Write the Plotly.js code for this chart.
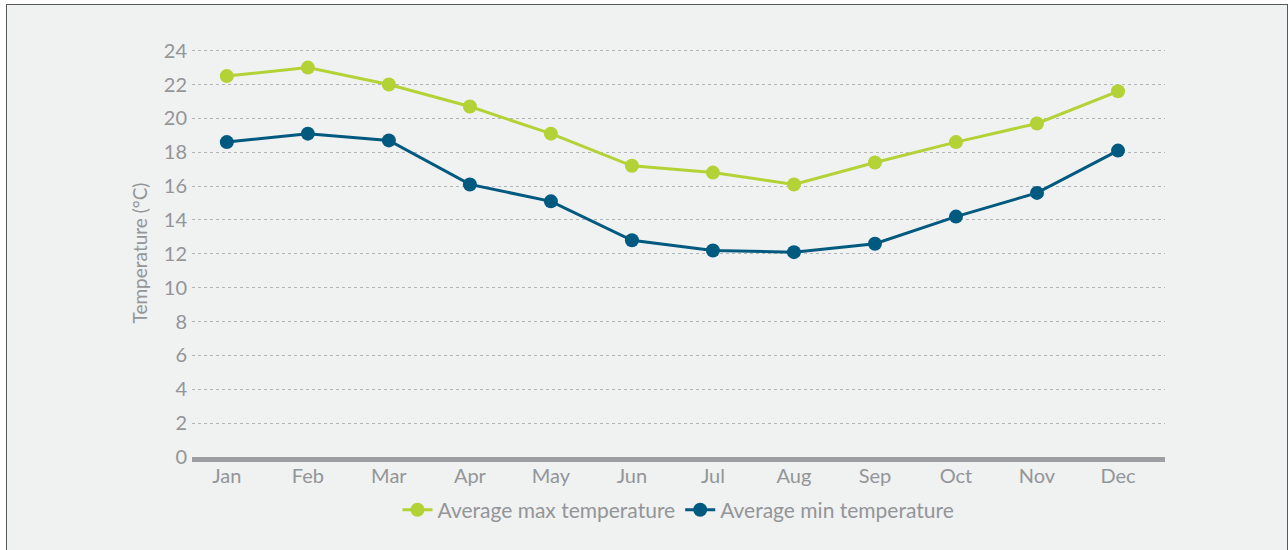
<!DOCTYPE html>
<html><head><meta charset="utf-8">
<script src="https://cdn.plot.ly/plotly-3.0.1.min.js"></script>
<style>
html,body{margin:0;padding:0;background:#fff;}
#bg{position:absolute;left:6px;top:4px;width:1280px;height:560px;background:#f0f1f1;border:1.5px solid #58595b;}
#chart{position:absolute;left:0;top:0;width:1288px;height:550px;}
</style></head>
<body>
<div id="bg"></div>
<div id="chart"></div>
<script>
const months = ["Jan","Feb","Mar","Apr","May","Jun","Jul","Aug","Sep","Oct","Nov","Dec"];
const maxTemp = [22.5, 23.0, 22.0, 20.7, 19.1, 17.2, 16.8, 16.1, 17.4, 18.6, 19.7, 21.6];
const minTemp = [18.6, 19.1, 18.7, 16.1, 15.1, 12.8, 12.2, 12.1, 12.6, 14.2, 15.6, 18.1];
const yTicks = [0,2,4,6,8,10,12,14,16,18,20,22,24];

const font = {family: "Lato, 'Open Sans', sans-serif", color: "#939598"};
const traces = [
  {x: months, y: maxTemp, name: "Average max temperature", type: "scatter", mode: "lines+markers",
   line: {color: "#b2d235", width: 3}, marker: {color: "#b2d235", size: 14}, cliponaxis: false},
  {x: months, y: minTemp, name: "Average min temperature", type: "scatter", mode: "lines+markers",
   line: {color: "#005a80", width: 3}, marker: {color: "#005a80", size: 14}, cliponaxis: false}
];
const layout = {
  width: 1288, height: 550,
  paper_bgcolor: "rgba(0,0,0,0)", plot_bgcolor: "rgba(0,0,0,0)",
  margin: {l: 192, r: 123, t: 49, b: 93},
  font: font,
  showlegend: true,
  legend: {orientation: "h", x: 0.5, xanchor: "center", y: -0.13, yanchor: "middle",
    font: {family: font.family, size: 21, color: "#939598"}, bgcolor: "rgba(0,0,0,0)", tracegroupgap: 0},
  xaxis: {type: "category", range: [-0.43, 11.58], showgrid: false, zeroline: false,
    showline: true, linecolor: "#9d9fa2", linewidth: 5, ticks: "", ticklabelstandoff: -3,
    tickfont: {family: font.family, size: 20, color: "#939598"}, fixedrange: true},
  yaxis: {range: [0, 24.1], tickvals: yTicks, ticktext: yTicks.map(String),
    showgrid: true, gridcolor: "#b3b5b8", griddash: "dot", gridwidth: 1,
    zeroline: false, showline: false, ticks: "", ticklen: 0, ticklabelstandoff: 4,
    tickfont: {family: font.family, size: 20, color: "#939598"},
    title: {text: "Temperature (°C)", font: {family: font.family, size: 19, color: "#939598"}, standoff: 11},
    fixedrange: true}
};
Plotly.newPlot("chart", traces, layout, {displayModeBar: false, staticPlot: true});
</script>
</body></html>
